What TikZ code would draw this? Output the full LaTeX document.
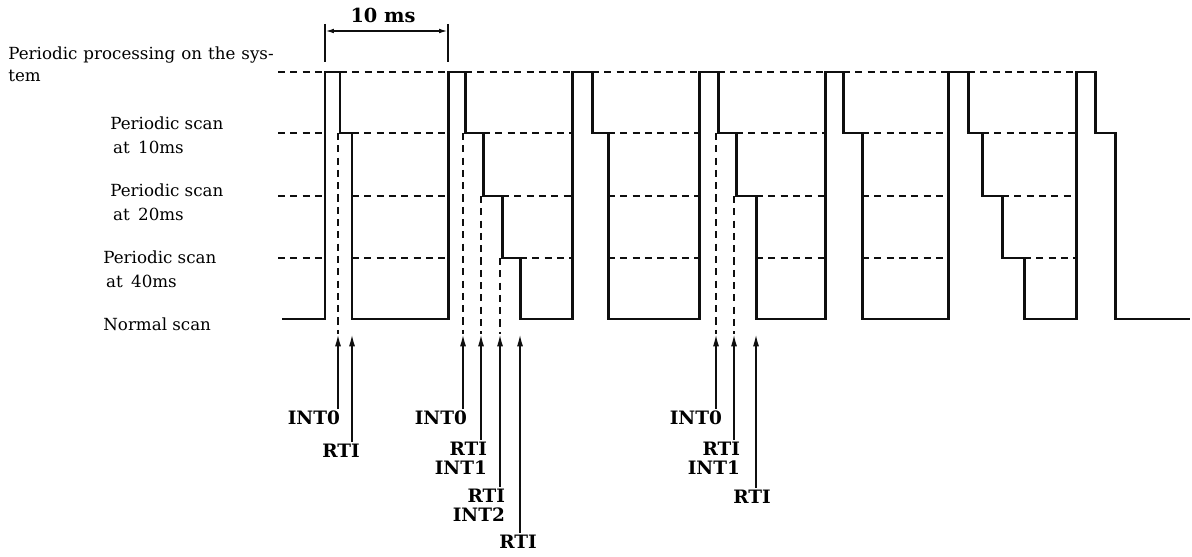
\documentclass[tikz,border=0pt]{standalone}
\usepackage{fontspec}
\setmainfont{DejaVu Serif}
\usepackage{tikz}
\usetikzlibrary{arrows.meta, positioning, calc}
\definecolor{ink}{RGB}{15,15,15}
\tikzset{
  wave/.style={line width=1.7pt, color=ink, line join=miter},
  guide/.style={line width=0.9pt, color=ink, dash pattern=on 4pt off 3pt},
  sigarrow/.style={-{Latex[length=7pt, width=3.4pt]}, line width=1pt, color=ink},
  dimarrow/.style={{Latex[length=5pt, width=2.6pt]}-{Latex[length=5pt, width=2.6pt]}, line width=0.9pt, color=ink},
  siglabel/.style={inner sep=1pt, align=right, font=\fontsize{10.5}{11}\selectfont\bfseries},
  levellabel/.style={inner sep=0pt, align=left, anchor=west, font=\fontsize{9.5}{13.5}\selectfont}
}

\begin{document}
\begin{tikzpicture}[x=0.02cm, y=-0.02cm]
  \useasboundingbox (0,0) rectangle (1192,557);

  % Level names
  \node[levellabel, anchor=north west, font=\fontsize{9.5}{13}\selectfont] (sysproc) at (8,46)
    {\spaceskip=0.36em Periodic processing on the sys-\\tem};
  \node[levellabel] (scan10) at (110,135) {Periodic scan\\\,at\enspace10ms};
  \node[levellabel] (scan20) at (110,202) {Periodic scan\\\,at\enspace20ms};
  \node[levellabel] (scan40) at (103,269) {Periodic scan\\\,at\enspace40ms};
  \node[levellabel] (normal) at (103,324) {Normal scan};

  % 10 ms period
  \coordinate (pa) at (325,31);
  \coordinate (pb) at (448,31);
  \draw[line width=0.9pt, color=ink] (325,24) -- (325,62) (448,24) -- (448,62);
  \draw[dimarrow] (pa) -- (pb);
  \node[font=\fontsize{11}{12}\selectfont\bfseries] (period) at (383,15) {10 ms};

  % Dashed levels
  \draw[guide] (278,72) -- (325,72) (340,72) -- (448,72) (465,72) -- (572,72) (592,72) -- (699,72)
    (718,72) -- (825,72) (843,72) -- (948,72) (968,72) -- (1076,72);
  \draw[guide] (278,133) -- (325,133) (352,133) -- (448,133) (483,133) -- (572,133) (608,133) -- (699,133)
    (736,133) -- (825,133) (862,133) -- (948,133) (982,133) -- (1076,133);
  \draw[guide] (278,196) -- (325,196) (352,196) -- (448,196) (502,196) -- (572,196) (608,196) -- (699,196)
    (756,196) -- (825,196) (862,196) -- (948,196) (1002,196) -- (1076,196);
  \draw[guide] (278,258) -- (325,258) (352,258) -- (448,258) (520,258) -- (572,258) (608,258) -- (699,258)
    (756,258) -- (825,258) (862,258) -- (948,258) (1024,258) -- (1076,258);

  % Scan timing
  \draw[wave] (282,319) -- (325,319)
    -- (325,72) -- (340,72) -- (340,133) -- (352,133) -- (352,319) -- (448,319)
    -- (448,72) -- (465,72) -- (465,133) -- (483,133) -- (483,196) -- (502,196) -- (502,258) -- (520,258) -- (520,319) -- (572,319)
    -- (572,72) -- (592,72) -- (592,133) -- (608,133) -- (608,319) -- (699,319)
    -- (699,72) -- (718,72) -- (718,133) -- (736,133) -- (736,196) -- (756,196) -- (756,319) -- (825,319)
    -- (825,72) -- (843,72) -- (843,133) -- (862,133) -- (862,319) -- (948,319)
    -- (948,72) -- (968,72) -- (968,133) -- (982,133) -- (982,196) -- (1002,196) -- (1002,258) -- (1024,258) -- (1024,319) -- (1076,319)
    -- (1076,72) -- (1095,72) -- (1095,133) -- (1115,133) -- (1115,319) -- (1190,319);

  % Interrupts, first period
  \coordinate (ta1) at (338,334);
  \coordinate (ta2) at (352,334);
  \node[siglabel, anchor=north east] (int0a) at (342,409) {INT0};
  \node[siglabel, anchor=north] (rtia) at (341,442) {RTI};
  \draw[guide] (338,133) -- (ta1);
  \draw[sigarrow] (ta1 |- int0a.north) -- (ta1);
  \draw[sigarrow] (ta2 |- rtia.north) -- (ta2);

  % Interrupts, second period
  \coordinate (tb1) at (463,334);
  \coordinate (tb2) at (481,334);
  \coordinate (tb3) at (500,334);
  \coordinate (tb4) at (520,334);
  \node[siglabel, anchor=north east] (int0b) at (469,409) {INT0};
  \node[siglabel, anchor=north east] (int1b) at (489,440) {RTI\\INT1};
  \node[siglabel, anchor=north east] (int2b) at (507,487) {RTI\\INT2};
  \node[siglabel, anchor=north] (rtib) at (518,533) {RTI};
  \draw[guide] (463,133) -- (tb1);
  \draw[guide] (481,196) -- (tb2);
  \draw[guide] (500,258) -- (tb3);
  \draw[sigarrow] (tb1 |- int0b.north) -- (tb1);
  \draw[sigarrow] (tb2 |- int1b.north) -- (tb2);
  \draw[sigarrow] (tb3 |- int2b.north) -- (tb3);
  \draw[sigarrow] (tb4 |- rtib.north) -- (tb4);

  % Interrupts, fourth period
  \coordinate (td1) at (716,334);
  \coordinate (td2) at (734,334);
  \coordinate (td3) at (756,334);
  \node[siglabel, anchor=north east] (int0d) at (724,409) {INT0};
  \node[siglabel, anchor=north east] (int1d) at (742,440) {RTI\\INT1};
  \node[siglabel, anchor=north] (rtid) at (752,488) {RTI};
  \draw[guide] (716,133) -- (td1);
  \draw[guide] (734,196) -- (td2);
  \draw[sigarrow] (td1 |- int0d.north) -- (td1);
  \draw[sigarrow] (td2 |- int1d.north) -- (td2);
  \draw[sigarrow] (td3 |- rtid.north) -- (td3);

\end{tikzpicture}
\end{document}
